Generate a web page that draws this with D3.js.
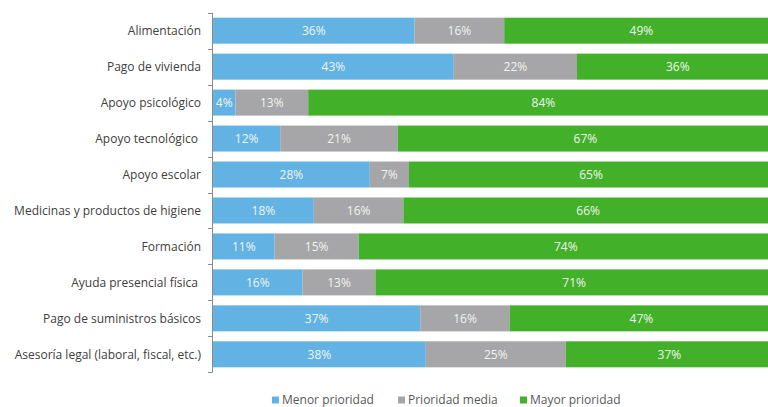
<!DOCTYPE html>
<html>
<head>
<meta charset="utf-8">
<script src="https://cdn.jsdelivr.net/npm/d3@7"></script>
<style>
html,body{margin:0;padding:0;background:#fff;overflow:hidden;}
svg{display:block;font-family:"Open Sans",sans-serif;}
</style>
</head>
<body>
<svg id="chart" width="768" height="407"></svg>
<script>
const categories = [
  "Alimentación",
  "Pago de vivienda",
  "Apoyo psicológico",
  "Apoyo tecnológico ",
  "Apoyo escolar",
  "Medicinas y productos de higiene",
  "Formación",
  "Ayuda presencial física ",
  "Pago de suministros básicos",
  "Asesoría legal (laboral, fiscal, etc.)"
];
const seriesNames = ["Menor prioridad", "Prioridad media", "Mayor prioridad"];
const menor = [36, 43, 4, 12, 28, 18, 11, 16, 37, 38];
const media = [16, 22, 13, 21, 7, 16, 15, 13, 16, 25];
const mayor = [49, 36, 84, 67, 65, 66, 74, 71, 47, 37];
const colors = ["#62b3e4", "#a6a6a8", "#43b02a"];

const svg = d3.select("#chart");
const x = d3.scaleLinear().domain([0, 100]).range([213, 773]);
const pad = 0.277;
const y = d3.scaleBand().domain(categories).range([12.7, 372.3]).paddingInner(pad).paddingOuter(pad / 2);

const rows = categories.map((c, i) => ({cat: c, menor: menor[i], media: media[i], mayor: mayor[i]}));
const keys = ["menor", "media", "mayor"];
const stack = d3.stack().keys(keys)(rows);

const g = svg.append("g");
stack.forEach((layer, li) => {
  const lg = g.append("g");
  lg.selectAll("rect").data(layer).join("rect")
    .attr("x", d => x(d[0]))
    .attr("y", d => y(d.data.cat))
    .attr("width", d => x(d[1]) - x(d[0]))
    .attr("height", y.bandwidth())
    .attr("fill", colors[li]);
  lg.selectAll("text").data(layer).join("text")
    .attr("x", d => (x(d[0]) + x(d[1])) / 2)
    .attr("y", d => y(d.data.cat) + y.bandwidth() / 2)
    .attr("dy", "0.36em")
    .attr("text-anchor", "middle")
    .attr("font-size", 12)
    .attr("fill", "#f0f4ee")
    .text(d => Math.round(d[1] - d[0]) + "%");
});

// axis
const axisColor = "#8c8c8c";
svg.append("line")
  .attr("x1", 212.5).attr("x2", 212.5)
  .attr("y1", y.range()[0]).attr("y2", y.range()[1])
  .attr("stroke", axisColor).attr("stroke-width", 1);
const bounds = categories.map(c => y(c) - y.step() * pad / 2).concat([y.range()[1]]);
svg.selectAll("line.tick").data(bounds).join("line")
  .attr("class", "tick")
  .attr("x1", 208).attr("x2", 212.5)
  .attr("y1", d => Math.round(d) + 0.5).attr("y2", d => Math.round(d) + 0.5)
  .attr("stroke", axisColor).attr("stroke-width", 1);

svg.selectAll("text.cat").data(categories).join("text")
  .attr("class", "cat")
  .attr("x", 201)
  .attr("y", d => y(d) + y.bandwidth() / 2)
  .attr("dy", "0.36em")
  .attr("text-anchor", "end")
  .attr("font-size", 12)
  .attr("fill", "#404040")
  .style("white-space", "pre")
  .text(d => d);

// legend
const legendX = [272, 398, 520];
const lg = svg.append("g");
seriesNames.forEach((n, i) => {
  lg.append("rect").attr("x", legendX[i]).attr("y", 396.5).attr("width", 7).attr("height", 7).attr("fill", colors[i]);
  lg.append("text").attr("x", legendX[i] + 10).attr("y", 400).attr("dy", "0.36em")
    .attr("font-size", 12).attr("fill", "#595959").text(n);
});
</script>
</body>
</html>
